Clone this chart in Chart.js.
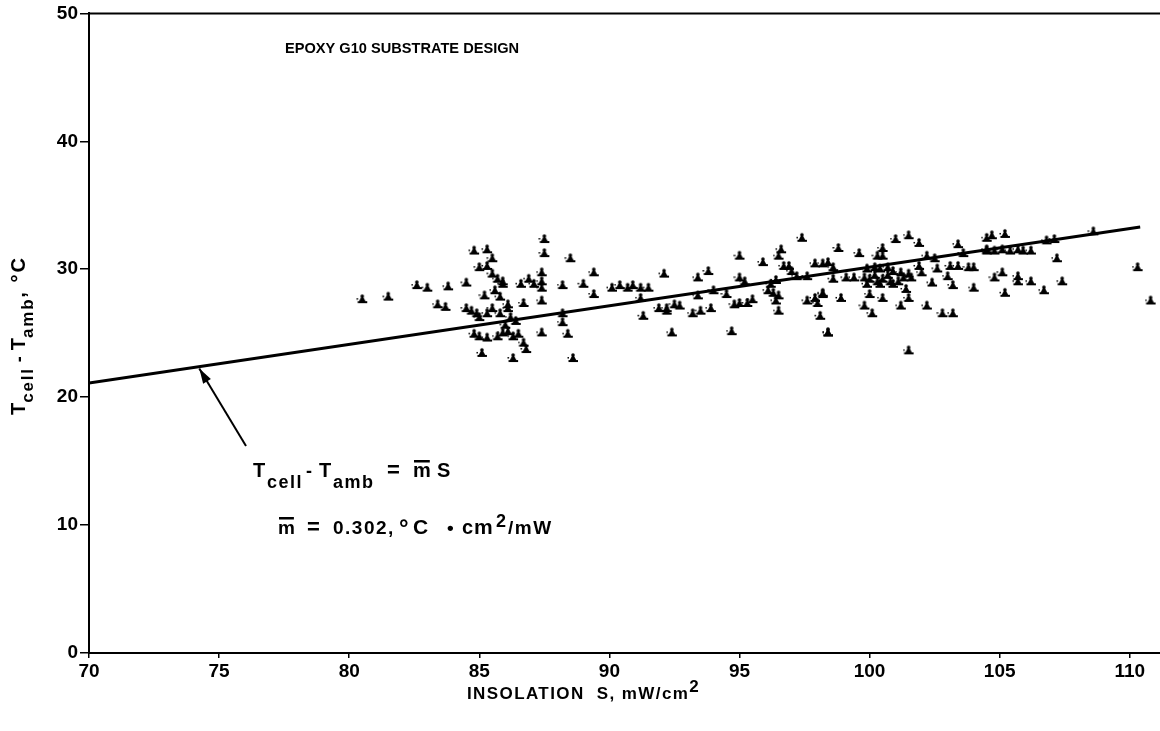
<!DOCTYPE html>
<html>
<head>
<meta charset="utf-8">
<script src="https://cdn.jsdelivr.net/npm/chart.js@4/dist/chart.umd.min.js"></script>
<style>
html,body{margin:0;padding:0;background:#fff;overflow:hidden;}
#wrap{position:relative;width:1160px;height:731px;overflow:hidden;}
</style>
</head>
<body>
<div id="wrap"><canvas id="c" width="1167" height="731"></canvas></div>
<script>
// ---- Data ----
const insolation = [
  80.5,81.5,82.6,83.0,83.8,84.5,83.4,83.7,85.2,84.8,85.3,85.5,85.0,85.3,85.5,85.7,85.9,84.5,84.7,84.9,85.0,85.3,85.5,85.8,86.1,84.8,85.0,85.3,85.7,85.9,85.1,
  85.9,86.6,86.9,87.1,87.4,87.4,87.4,87.5,87.5,88.5,88.2,89.0,89.4,89.4,90.1,90.4,90.7,90.9,91.2,91.5,92.1,86.1,86.7,87.4,88.2,88.2,88.4,87.4,86.1,86.3,86.5,86.7,86.8,86.3,88.6,91.2,91.3,91.9,92.2,
  93.4,93.8,95.0,95.0,95.2,97.4,95.9,96.5,96.6,96.7,96.9,97.0,97.2,97.6,97.9,98.2,93.4,94.0,94.5,92.2,92.5,92.7,93.2,93.5,93.9,94.8,95.0,95.3,95.5,96.1,96.3,96.4,96.5,96.5,97.6,97.9,98.0,98.2,98.1,92.4,94.7,98.4,
  98.4,98.6,98.8,99.6,100.5,100.5,100.3,101.0,101.5,101.9,103.4,103.6,104.5,104.5,99.9,100.2,100.4,100.7,100.9,101.2,101.5,99.8,100.0,100.3,100.5,100.8,101.1,101.3,101.6,99.9,100.4,100.9,101.9,102.0,102.2,102.5,102.6,103.1,103.4,103.8,104.0,102.4,103.0,103.2,104.0,98.2,98.9,100.0,100.5,101.4,101.5,99.8,100.1,101.2,102.2,102.8,103.2,98.4,101.5,99.1,99.4,98.6,
  104.7,105.2,104.5,104.8,105.1,105.4,105.7,105.9,106.2,106.8,107.1,108.6,107.2,110.3,110.8,104.8,105.1,105.7,105.7,106.2,107.4,105.2,106.7,
  85.6,85.8,86.2,86.0,86.4,96.2,96.4,100.2,100.7
];
const tempRise = [
  27.7,27.9,28.8,28.6,28.7,29.0,27.3,27.1,28.0,31.5,31.6,30.9,30.2,30.3,29.7,29.3,28.9,27.0,26.8,26.6,26.3,26.6,27.0,26.6,27.0,25.0,24.8,24.7,24.8,25.1,23.5,
  29.1,28.9,29.3,28.9,29.8,29.1,28.6,32.4,31.3,30.9,28.8,28.9,29.8,28.1,28.6,28.8,28.6,28.8,28.6,28.6,29.7,27.3,27.4,27.6,26.6,25.9,25.0,25.1,25.2,24.8,25.0,24.3,23.8,23.1,23.1,27.8,26.4,27.0,26.8,
  29.4,29.9,31.1,29.4,29.1,32.5,30.6,31.1,31.6,30.3,30.3,29.9,29.5,29.5,30.5,30.5,28.0,28.4,28.1,27.0,27.3,27.2,26.6,26.8,27.0,27.3,27.4,27.4,27.7,28.4,28.2,27.6,28.0,26.8,27.6,27.8,27.4,28.1,26.4,25.1,25.2,25.1,
  30.6,30.2,31.7,31.3,31.7,31.1,31.1,32.4,32.7,32.1,32.0,31.3,32.5,31.6,30.1,30.2,30.1,30.2,29.9,29.8,29.7,29.4,29.3,29.1,29.3,29.1,29.1,29.4,29.4,28.9,28.9,28.9,30.3,29.8,31.1,30.9,30.1,30.3,30.3,30.2,30.2,29.0,29.5,28.8,28.6,28.2,27.8,28.1,27.8,28.5,27.8,27.2,26.6,27.2,27.2,26.6,26.6,25.1,23.7,29.4,29.4,29.3,
  32.7,32.8,31.5,31.5,31.6,31.5,31.6,31.5,31.5,32.3,32.4,33.0,30.9,30.2,27.6,29.4,29.8,29.5,29.1,29.1,29.1,28.2,28.4,
  28.4,27.9,26.3,25.7,26.0,28.9,29.2,29.6,29.6
];
// fitted line  Tcell - Tamb = 0.302 S  (end points)
const fitX = [70, 110.4];
const fitY = [21.1, 33.3];
const xTicks = [70, 75, 80, 85, 90, 95, 100, 105, 110];
const yTicks = [0, 10, 20, 30, 40, 50];

// ---- marker glyph ----
function makeGlyph(){
  const c = document.createElement('canvas');
  c.width = 12; c.height = 11;
  const g = c.getContext('2d');
  g.fillStyle = '#000';
  g.beginPath(); g.moveTo(2.5,8.5); g.lineTo(6,2); g.lineTo(9.5,8.5); g.closePath(); g.fill();
  g.beginPath(); g.arc(6,3,1.8,0,Math.PI*2); g.fill();
  g.fillRect(1.5,8,9.5,2);
  g.fillRect(0.5,5,1.5,1.5);
  return c;
}
const glyph = makeGlyph();

const points = insolation.map((s,i)=>({x:s, y:tempRise[i]}));
const fitLine = fitX.map((s,i)=>({x:s, y:fitY[i]}));

const FONT = "'Liberation Sans', Arial, sans-serif";

function txt(ctx, s, x, y, size, ls){
  ctx.font = 'bold ' + size + 'px ' + FONT;
  ctx.letterSpacing = (ls||0) + 'px';
  ctx.fillText(s, x, y);
  const w = ctx.measureText(s).width;
  ctx.letterSpacing = '0px';
  return w;
}

const deco = {
  id:'deco',
  afterDraw(chart){
    const ctx = chart.ctx;
    const xs = chart.scales.x, ys = chart.scales.y;
    const L = chart.chartArea.left, T = chart.chartArea.top;
    ctx.save();
    ctx.fillStyle = '#000'; ctx.strokeStyle = '#000';
    // top frame line
    ctx.lineWidth = 2;
    ctx.beginPath(); ctx.moveTo(L, T); ctx.lineTo(1167, T); ctx.stroke();
    ctx.textBaseline = 'alphabetic';
    ctx.textAlign = 'left';
    // header
    txt(ctx, 'EPOXY G10 SUBSTRATE DESIGN', 285, 53, 14.6, 0);
    // equation line 1
    txt(ctx, 'T', 253, 477, 20);
    txt(ctx, 'cell', 267, 488, 18, 1.5);
    txt(ctx, '-', 306, 477, 18);
    txt(ctx, 'T', 319, 477, 20);
    txt(ctx, 'amb', 333, 488, 18, 1.5);
    txt(ctx, '=', 387, 477, 22);
    const mw = txt(ctx, 'm', 413, 477, 20);
    ctx.fillRect(414, 460, mw-2, 2.5);
    txt(ctx, 'S', 437, 477, 20);
    // equation line 2
    const mw2 = txt(ctx, 'm', 278, 534, 19);
    ctx.fillRect(279, 517, mw2-2, 2.5);
    txt(ctx, '=', 307, 534, 22);
    txt(ctx, '0.302,', 333, 534, 19, 1.5);
    txt(ctx, '°', 399, 536, 24);
    txt(ctx, 'C', 413, 534, 21, 0);
    txt(ctx, '•', 447, 534, 19);
    txt(ctx, 'c', 462, 534, 20);
    txt(ctx, 'm', 474, 534, 21);
    txt(ctx, '2', 496, 527, 18);
    txt(ctx, '/mW', 508, 534, 19, 1.5);
    // arrow
    const ax1 = 246, ay1 = 446;
    const ax2 = xs.getPixelForValue(74.2) + 1, ay2 = ys.getPixelForValue(22.4) + 2;
    ctx.lineWidth = 2;
    ctx.beginPath(); ctx.moveTo(ax1, ay1); ctx.lineTo(ax2, ay2); ctx.stroke();
    const ang = Math.atan2(ay2-ay1, ax2-ax1);
    ctx.beginPath();
    ctx.moveTo(ax2, ay2);
    ctx.lineTo(ax2 - 15*Math.cos(ang) + 4.5*Math.sin(ang), ay2 - 15*Math.sin(ang) - 4.5*Math.cos(ang));
    ctx.lineTo(ax2 - 15*Math.cos(ang) - 4.5*Math.sin(ang), ay2 - 15*Math.sin(ang) + 4.5*Math.cos(ang));
    ctx.closePath(); ctx.fill();
    // x axis title
    let w = txt(ctx, 'INSOLATION  S, mW/cm', 467, 699, 17, 1.4);
    txt(ctx, '2', 467 + w, 692, 17);
    // y axis title
    ctx.save();
    ctx.translate(25, 415);
    ctx.rotate(-Math.PI/2);
    let p = 0;
    p += txt(ctx, 'T', p, 0, 20) ;
    p += txt(ctx, 'cell', p, 8, 17, 1.8) + 5;
    p += txt(ctx, '-', p, 0, 18) + 6;
    p += txt(ctx, 'T', p, 0, 20);
    p += txt(ctx, 'amb', p, 8, 17, 1.8);
    txt(ctx, ', °C', p, 0, 20, 2);
    ctx.restore();
    ctx.restore();
  }
};

new Chart(document.getElementById('c'), {
  type:'scatter',
  data:{
    datasets:[
      {
        type:'line', data:fitLine, borderColor:'#000', borderWidth:3,
        pointRadius:0, fill:false, tension:0, order:1
      },
      {
        data:points, pointStyle:glyph, pointRadius:5, pointHoverRadius:5, order:2
      }
    ]
  },
  options:{
    responsive:false, animation:false,
    events:[],
    layout:{padding:{top:13, right:0, left:0, bottom:0}},
    plugins:{legend:{display:false}, tooltip:{enabled:false}},
    scales:{
      x:{
        type:'linear', min:70, max:111.2,
        afterFit(s){ s.height = 78; },
        afterBuildTicks(s){ s.ticks = xTicks.map(v=>({value:v})); },
        ticks:{ color:'#000', font:{family:FONT, size:19, weight:'bold'}, padding:2, maxRotation:0, includeBounds:false },
        grid:{ display:true, drawOnChartArea:false, drawTicks:true, tickLength:5, color:'#000', lineWidth:1.5 },
        border:{ display:true, color:'#000', width:2 }
      },
      y:{
        type:'linear', min:0, max:50,
        afterFit(s){ s.width = 89; },
        afterBuildTicks(s){ s.ticks = yTicks.map(v=>({value:v})); },
        ticks:{ color:'#000', font:{family:FONT, size:19, weight:'bold'}, padding:2, includeBounds:false },
        grid:{ display:true, drawOnChartArea:false, drawTicks:true, tickLength:9, color:'#000', lineWidth:1.5 },
        border:{ display:true, color:'#000', width:2 }
      }
    }
  },
  plugins:[deco]
});
</script>
</body>
</html>
